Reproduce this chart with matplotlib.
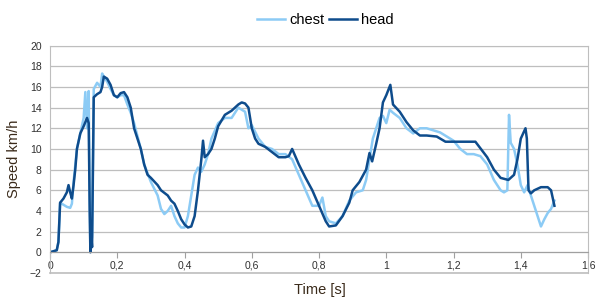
import matplotlib
matplotlib.use('Agg')
import matplotlib.pyplot as plt

plt.rcParams['font.family'] = ['Liberation Sans', 'DejaVu Sans']

# time [s] and speed [km/h]
t_head = [0, 0.01, 0.02, 0.025, 0.03, 0.04, 0.05, 0.055, 0.06, 0.065, 0.07, 0.075, 0.08, 0.09, 0.1,
          0.11, 0.115, 0.118, 0.12, 0.122, 0.125, 0.13, 0.14, 0.15, 0.155, 0.16, 0.17, 0.18, 0.19, 0.2,
          0.21, 0.22, 0.23, 0.24, 0.25, 0.27, 0.28, 0.29, 0.3, 0.32, 0.33, 0.35, 0.36, 0.37, 0.38,
          0.39, 0.4, 0.41, 0.42, 0.43, 0.44, 0.45, 0.455, 0.46, 0.47, 0.48, 0.49, 0.5, 0.52, 0.54,
          0.56, 0.57, 0.58, 0.59, 0.6, 0.61, 0.62, 0.64, 0.66, 0.68, 0.7, 0.71, 0.72, 0.74, 0.76,
          0.78, 0.8, 0.82, 0.83, 0.85, 0.87, 0.89, 0.9, 0.92, 0.94, 0.95, 0.958, 0.97, 0.98, 0.99,
          1.0, 1.012, 1.02, 1.04, 1.06, 1.08, 1.1, 1.12, 1.15, 1.176, 1.2, 1.265, 1.3, 1.32, 1.34,
          1.363, 1.38, 1.39, 1.4, 1.414, 1.418, 1.423, 1.43, 1.44, 1.46, 1.48, 1.49, 1.5]
v_head = [0, 0.1, 0.2, 1.0, 4.8, 5.2, 5.8, 6.5, 5.8, 5.2, 6.5, 8.0, 10.0, 11.5, 12.2,
          13.0, 12.5, 4.0, 0, 2.0, 0.5, 15.0, 15.3, 15.5, 16.0, 17.0, 16.8, 16.2, 15.2, 15.0,
          15.4, 15.5, 15.0, 14.0, 12.0, 10.0, 8.5, 7.5, 7.2, 6.5, 6.0, 5.5, 5.0, 4.7, 4.0,
          3.2, 2.7, 2.4, 2.5, 3.5, 6.0, 9.0, 10.8, 9.2, 9.5, 10.0, 11.0, 12.2, 13.3, 13.7,
          14.3, 14.5, 14.4, 14.0, 12.0, 11.0, 10.5, 10.2, 9.7, 9.2, 9.2, 9.3, 10.0, 8.5, 7.2,
          6.0, 4.5, 3.0, 2.5, 2.6, 3.5, 4.8, 6.0, 6.8, 8.0, 9.6, 8.8, 10.5, 12.0, 14.5,
          15.2, 16.2, 14.3, 13.6, 12.6, 11.8, 11.3, 11.3, 11.2, 10.7, 10.7, 10.7, 9.2, 8.0, 7.2,
          7.0, 7.5, 9.0, 11.0, 12.0, 11.0, 6.0, 5.7, 6.0, 6.3, 6.3, 6.0, 4.5]

t_chest = [0, 0.01, 0.02, 0.025, 0.03, 0.04, 0.05, 0.06, 0.065, 0.07, 0.08, 0.09, 0.1, 0.105,
           0.11, 0.115, 0.118, 0.12, 0.125, 0.13, 0.14, 0.15, 0.155, 0.16, 0.17, 0.18, 0.19, 0.2,
           0.21, 0.22, 0.23, 0.24, 0.25, 0.27, 0.28, 0.3, 0.32, 0.33, 0.34, 0.35, 0.36, 0.37, 0.38,
           0.39, 0.4, 0.41, 0.42, 0.43, 0.44, 0.45, 0.46, 0.47, 0.48, 0.5, 0.52, 0.54, 0.55, 0.56,
           0.58, 0.59, 0.6, 0.62, 0.64, 0.66, 0.68, 0.7, 0.72, 0.74, 0.76, 0.78, 0.8, 0.81, 0.82,
           0.83, 0.85, 0.87, 0.89, 0.91, 0.93, 0.94, 0.95, 0.96, 0.97, 0.98, 0.99, 1.0, 1.01, 1.02,
           1.04, 1.06, 1.08, 1.1, 1.12, 1.14, 1.16, 1.2, 1.22, 1.24, 1.26, 1.28, 1.3, 1.32, 1.34,
           1.35, 1.36, 1.365, 1.37, 1.38, 1.39, 1.4, 1.41, 1.42, 1.43, 1.45, 1.46, 1.47, 1.48,
           1.49, 1.5]
v_chest = [0, 0.1, 0.2, 1.0, 4.8, 4.6, 4.4, 4.3, 4.7, 6.8, 10.0, 11.5, 13.0, 15.5,
           12.0, 15.6, 5.0, 0.5, 1.5, 15.8, 16.4, 16.0, 17.3, 17.0, 16.5, 15.8, 15.2, 15.0,
           15.2, 15.2, 14.3, 13.5, 12.5, 10.0, 8.5, 6.8, 5.5, 4.2, 3.7, 4.0, 4.5, 3.5, 2.8,
           2.4, 2.4, 3.5, 5.5, 7.5, 8.2, 7.8, 8.5, 9.5, 11.0, 12.5, 13.0, 13.0, 13.5, 14.0,
           13.6, 12.0, 12.3, 11.0, 10.2, 10.0, 9.5, 9.5, 9.0, 7.5, 6.0, 4.5, 4.5, 5.3, 3.5,
           3.0, 2.8, 3.5, 5.0, 5.8, 6.0, 7.0, 9.0, 11.0, 12.0, 13.0, 13.2, 12.5, 13.8, 13.5,
           13.0, 12.0, 11.5, 12.0, 12.0, 11.8, 11.6, 10.8, 10.0, 9.5, 9.5, 9.3, 8.5, 7.0, 6.0,
           5.8, 6.0, 13.3, 10.6, 10.0, 8.5, 6.5, 5.8, 6.5, 5.5, 3.5, 2.5, 3.2, 3.8,
           4.2, 5.0]

x_ticks = [0, 0.2, 0.4, 0.6, 0.8, 1, 1.2, 1.4, 1.6]
y_ticks = list(range(-2, 21, 2))

fig = plt.figure(figsize=(5.97, 2.98), dpi=100)
ax = fig.add_axes([0.0838, 0.084, 0.9012, 0.763])

ax.plot(t_chest, v_chest, color='#8CCBF5', lw=1.8, label='chest')
ax.plot(t_head, v_head, color='#0E4C8C', lw=1.8, label='head')

ax.set_xlim(0, 1.6)
ax.set_ylim(-2, 20)
ax.set_yticks(y_ticks)
ax.set_xticks(x_ticks)
ax.set_xticklabels([('%g' % v).replace('.', ',') for v in x_ticks])
ax.grid(axis='y', color='#BEBEBE', lw=0.9)
ax.set_axisbelow(True)

for s in ['top', 'right', 'left']:
    ax.spines[s].set_color('#BEBEBE')
ax.spines['bottom'].set_position(('data', 0))
ax.spines['bottom'].set_color('#A0A0A0')
ax.axhline(-2, color='#BEBEBE', lw=1.2, clip_on=False)
ax.tick_params(axis='y', length=0, labelsize=7.5, colors='#303030', pad=6)
ax.tick_params(axis='x', length=4, direction='out', color='#A0A0A0', labelsize=7.5,
               labelcolor='#303030', pad=2)

ax.set_ylabel('Speed km/h', fontsize=10.5, color='#3A2A1A', labelpad=6)
fig.text(0.535, 0.003, 'Time [s]', fontsize=10.5, color='#3A2A1A', ha='center', va='bottom')

fig.legend(loc='upper center', bbox_to_anchor=(0.545, 1.0), ncol=2, frameon=False,
           fontsize=10.5, handlelength=1.9, columnspacing=0.3, handletextpad=0.3)

fig.savefig('out.png', dpi=100)
